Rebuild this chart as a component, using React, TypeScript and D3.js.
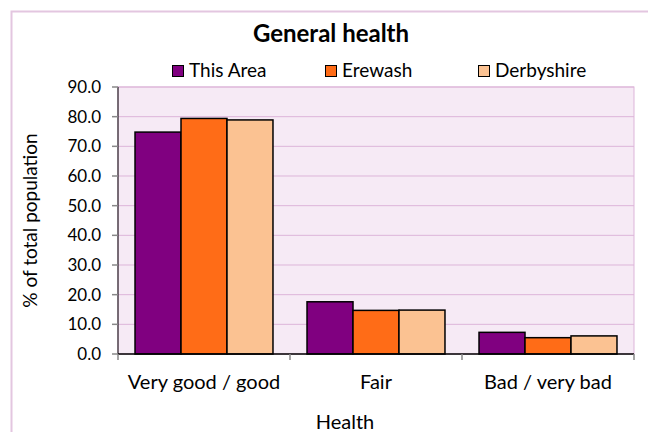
import React from 'react';
import * as d3 from 'd3';

const categories = ['Very good / good', 'Fair', 'Bad / very bad'];
const seriesNames = ['This Area', 'Erewash', 'Derbyshire'];
const thisArea = [74.8, 17.6, 7.3];
const erewash = [79.4, 14.7, 5.5];
const derbyshire = [78.9, 14.8, 6.1];
const yTicks = [0, 10, 20, 30, 40, 50, 60, 70, 80, 90];
const colors = ['#800080', '#FF6C17', '#FBC292'];

const W = 648;
const H = 432;
const plot = { left: 118, right: 634, top: 87, bottom: 354 };
const font = 'Lato, "Open Sans", sans-serif';

const App = () => {
  const x0 = d3.scaleBand().domain(categories).range([plot.left, plot.right]).padding(0);
  const x1 = d3
    .scaleBand()
    .domain(seriesNames)
    .range([0, x0.bandwidth()])
    .paddingInner(0)
    .paddingOuter(0.37);
  const y = d3.scaleLinear().domain([0, 90]).range([plot.bottom, plot.top]);

  const allSeries = [thisArea, erewash, derbyshire];
  const legendX = d3.scaleLinear().domain([0, 1]).range([172, 325]);

  return (
    <svg width={W} height={H} style={{ position: 'absolute', left: 0, top: 0 }} fontFamily={font}>
      <rect x={0} y={0} width={W} height={H} fill="#fff" />
      {/* outer chart border */}
      <rect x={11.5} y={11.5} width={645} height={440} fill="none" stroke="#E3C6E0" strokeWidth={2} />

      {/* title */}
      <text x={331} y={42} textAnchor="middle" fontSize={24} fontWeight="bold" fill="#000">
        General health
      </text>

      {/* legend */}
      {seriesNames.map((s, i) => (
        <g key={s} transform={`translate(${legendX(i)},65)`}>
          <rect x={0.5} y={0.5} width={11} height={11} fill={colors[i]} stroke="#000" strokeWidth={1} />
          <text x={17} y={11.5} fontSize={19} fill="#000">
            {s}
          </text>
        </g>
      ))}

      {/* plot area */}
      <rect
        x={plot.left}
        y={plot.top}
        width={plot.right - plot.left}
        height={plot.bottom - plot.top}
        fill="#F6EAF5"
        stroke="#DDB5D9"
        strokeWidth={1}
      />
      {yTicks.slice(1).map((t) => (
        <line key={t} x1={plot.left} x2={plot.right} y1={y(t)} y2={y(t)} stroke="#DDB5D9" strokeWidth={1} />
      ))}

      {/* bars */}
      {categories.map((c, ci) => (
        <g key={c} transform={`translate(${x0(c)},0)`}>
          {seriesNames.map((s, si) => (
            <rect
              key={s}
              x={x1(s)}
              y={y(allSeries[si][ci])}
              width={x1.bandwidth()}
              height={y(0) - y(allSeries[si][ci])}
              fill={colors[si]}
              stroke="#000"
              strokeWidth={1.5}
            />
          ))}
        </g>
      ))}

      {/* y axis */}
      <line x1={plot.left} x2={plot.left} y1={plot.top} y2={plot.bottom} stroke="#000" strokeWidth={1} />
      {yTicks.map((t) => (
        <g key={t}>
          <line x1={plot.left - 6} x2={plot.left} y1={y(t)} y2={y(t)} stroke="#888" strokeWidth={1.5} />
          <text x={plot.left - 17} y={y(t) + 6} textAnchor="end" fontSize={17} fill="#000">
            {t.toFixed(1)}
          </text>
        </g>
      ))}

      {/* x axis */}
      <line x1={plot.left} x2={plot.right} y1={plot.bottom} y2={plot.bottom} stroke="#000" strokeWidth={1.5} />
      {[...categories.map((c) => x0(c) as number), plot.right].map((xv, i) => (
        <line key={i} x1={xv} x2={xv} y1={plot.bottom} y2={plot.bottom + 6} stroke="#888" strokeWidth={1.5} />
      ))}
      {categories.map((c) => (
        <text key={c} x={(x0(c) as number) + x0.bandwidth() / 2} y={389} textAnchor="middle" fontSize={20} fill="#000">
          {c}
        </text>
      ))}

      {/* axis titles */}
      <text x={345} y={429} textAnchor="middle" fontSize={20} fill="#000">
        Health
      </text>
      <text
        transform={`translate(37,${(plot.top + plot.bottom) / 2}) rotate(-90)`}
        textAnchor="middle"
        fontSize={19}
        fill="#000"
      >
        % of total population
      </text>
    </svg>
  );
};

export default App;
